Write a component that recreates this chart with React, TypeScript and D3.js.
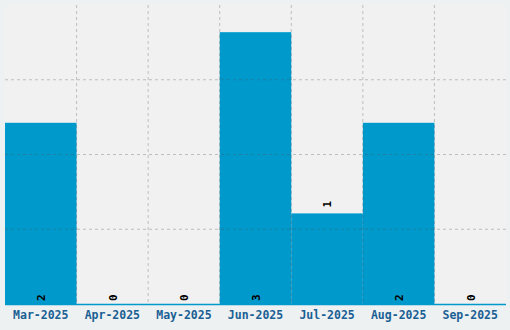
import React from "react";
import * as d3 from "d3";

const categories = ["Mar-2025", "Apr-2025", "May-2025", "Jun-2025", "Jul-2025", "Aug-2025", "Sep-2025"];
const values = [2, 0, 0, 3, 1, 2, 0];

const W = 510;
const H = 330;
const M = { left: 5, right: 4, top: 5, bottom: 26 };

export default function App() {
  const x = d3.scaleBand<string>().domain(categories).range([M.left, W - M.right]).padding(0);
  const yMax = (d3.max(values) ?? 1) * 1.1;
  const y = d3.scaleLinear().domain([0, yMax]).range([H - M.bottom, M.top]);
  const plotH = H - M.bottom - M.top;
  const hGrid = [1, 2, 3].map((i) => M.top + (plotH * i) / 4);
  const vGrid = categories.slice(1).map((c) => x(c)!);
  const font = "'DejaVu Sans Mono', monospace";
  return (
    <svg width={W} height={H} style={{ position: "absolute", left: 0, top: 0, display: "block" }}>
      <rect x={0} y={0} width={W} height={H} fill="#eef1f2" />
      <rect x={M.left} y={M.top} width={W - M.left - M.right} height={plotH} fill="#f1f1f1" />
      {categories.map((c, i) => (
        <rect key={c} x={x(c)!} y={y(values[i])} width={x.bandwidth()} height={y(0) - y(values[i])} fill="#0099cc" />
      ))}
      {hGrid.map((gy, i) => (
        <line key={"h" + i} x1={M.left} x2={W - M.right} y1={gy} y2={gy} stroke="rgba(80,80,80,0.32)" strokeWidth={1} strokeDasharray="3,3" />
      ))}
      {vGrid.map((gx, i) => (
        <line key={"v" + i} x1={gx} x2={gx} y1={M.top} y2={H - M.bottom} stroke="rgba(80,80,80,0.32)" strokeWidth={1} strokeDasharray="3,3" />
      ))}
      <line x1={M.left} x2={W - M.right} y1={y(0) + 0.5} y2={y(0) + 0.5} stroke="#0099cc" strokeWidth={1.5} />
      {categories.map((c, i) => {
        const cx = x(c)! + x.bandwidth() / 2;
        const v = values[i];
        const ly = v === 1 ? y(v) - 6 : y(0) - 3;
        return (
          <text key={"l" + c} transform={`translate(${cx + 0.5},${ly}) rotate(-90)`} dy="0.35em" textAnchor="start" fontFamily={font} fontWeight="bold" fontSize={11} fill="#000">
            {v}
          </text>
        );
      })}
      {categories.map((c) => (
        <text key={"x" + c} x={x(c)! + x.bandwidth() / 2} y={318.5} textAnchor="middle" fontFamily={font} fontWeight="bold" fontSize={11.5} fill="#1a5f94">
          {c}
        </text>
      ))}
    </svg>
  );
}
